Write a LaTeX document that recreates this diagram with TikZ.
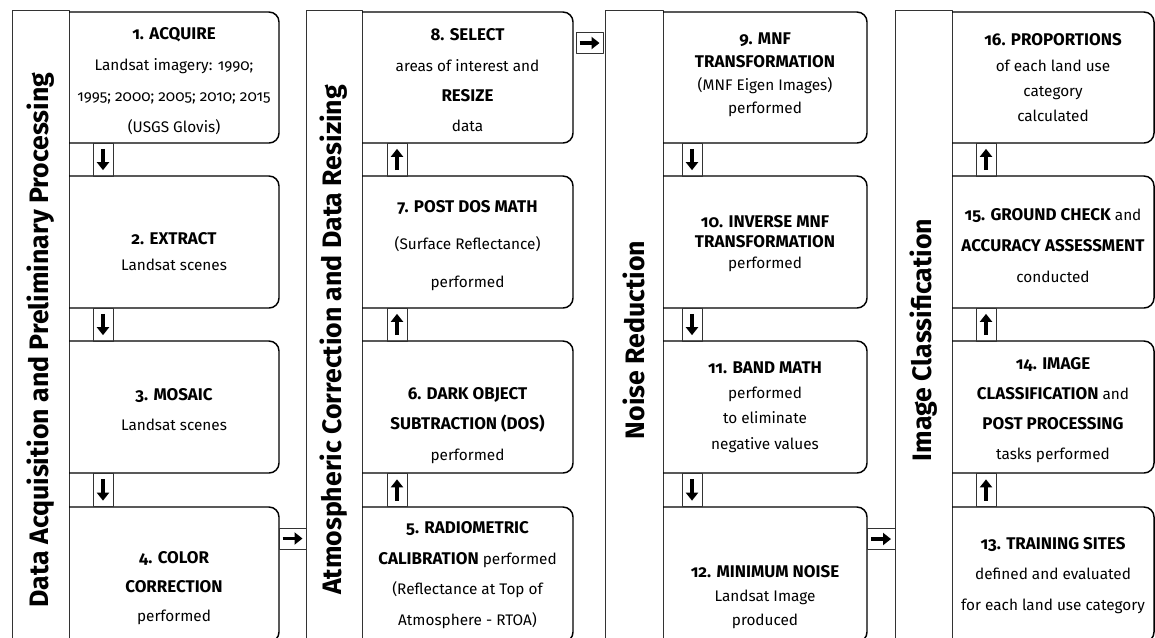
\documentclass[tikz,border=0pt]{standalone}
\usepackage{fontspec}
\setmainfont{Fira Sans}[Numbers=OldStyle]
\usetikzlibrary{arrows.meta}
\newcommand\hd[1]{{\fontsize{12.7}{12}\selectfont\bfseries #1}}
\tikzset{
  band/.style={draw=black!80,line width=.7pt},
  frame/.style={draw=black,line width=1.1pt,rounded corners=7.5pt},
  title/.style={rotate=90,font=\fontsize{20}{24}\selectfont\bfseries},
  stage/.style={align=center,inner sep=0pt,font=\fontsize{11.5}{#1}\selectfont},
  stage/.default=22.5pt,
  gap/.style={band,minimum width=15pt,minimum height=24.75pt,inner sep=0pt},
  sidegap/.style={band,minimum width=20.25pt,minimum height=15.75pt,inner sep=0pt},
  fat/.style={line width=2.5pt,-{Triangle[length=6pt,width=9pt]}},
}
\begin{document}
\begin{tikzpicture}[x=.75pt,y=-.75pt,line join=round]
\useasboundingbox (0,0) rectangle (1155,637);
% columns
\foreach \xs/\xb in {12/69,306/362,605/663,895/952}
  \draw[band] (\xs,10) rectangle (\xb,660);
\foreach \xb/\xe in {69/279,362/573,663/867,952/1154}
  \foreach \yt/\yb in {12/143,176/308,341/473,507/642}
    \draw[frame] (\xb,\yt) -- (\xe,\yt) -- (\xe,\yb) -- (\xb,\yb);
\node[title] (t1) at (40.5,340) {Data Acquisition and Preliminary Processing};
\node[title] (t2) at (334,340) {Atmospheric Correction and Data Resizing};
\node[title] (t3) at (634,340) {Noise Reduction};
\node[title] (t4) at (923.5,340) {Image Classification};
% arrows between steps
\foreach \x/\a/\b [count=\c] in {103/8pt/-8pt,397/-8pt/8pt,692/8pt/-8pt,986/-8pt/8pt}
  \foreach \y [count=\r] in {159.5,324.5,490}{
    \node[gap] (g\c\r) at (\x,\y) {};
    \draw[fat] ([yshift=\a]g\c\r.center) -- ([yshift=\b]g\c\r.center);
  }
\node[sidegap] (h1) at (292.5,538.5) {};
\node[sidegap] (h2) at (589.5,43) {};
\node[sidegap,minimum width=21pt] (h3) at (881,539) {};
\foreach \h in {h1,h2,h3}
  \draw[fat] ([xshift=-7.5pt]\h.center) -- ([xshift=7.5pt]\h.center);
% steps
\node[stage=23.25pt] (s1) at (174,81.5) {\hd{1. ACQUIRE}\\Landsat imagery: 1990;\\1995; 2000; 2005; 2010; 2015\\(USGS Glovis)};
\node[stage=19.5pt] (s2) at (174,252) {\hd{2. EXTRACT}\\Landsat scenes};
\node[stage] (s3) at (174,410) {\hd{3. MOSAIC}\\Landsat scenes};
\node[stage=21.75pt] (s4) at (174,588) {\hd{4. COLOR}\\\hd{CORRECTION}\\performed};
\node[stage=23pt] (s5) at (467.5,575) {\hd{5. RADIOMETRIC}\\\hd{CALIBRATION} performed\\(Reflectance at Top of\\Atmosphere - RTOA)};
\node[stage=23pt] (s6) at (467.5,425.5) {\hd{6. DARK OBJECT}\\\hd{SUBTRACTION (DOS)}\\performed};
\node[stage=28pt] (s7) at (467.5,245.5) {\hd{7. POST DOS MATH}\\(Surface Reflectance)\\performed};
\node[stage=22.75pt] (s8) at (467.5,80.5) {\hd{8. SELECT}\\areas of interest and\\\hd{RESIZE}\\data};
\node[stage=17.25pt] (s9) at (765,74.5) {\hd{9. MNF}\\\hd{TRANSFORMATION}\\(MNF Eigen Images)\\performed};
\node[stage=15.4pt] (s10) at (765,243.5) {\hd{10. INVERSE MNF}\\\hd{TRANSFORMATION}\\performed};
\node[stage=19pt] (s11) at (765,407) {\hd{11. BAND MATH}\\performed\\to eliminate\\negative values};
\node[stage=18pt] (s12) at (765,597) {\hd{12. MINIMUM NOISE}\\Landsat Image\\produced};
\node[stage=23pt] (s13) at (1053,575.5) {\hd{13. TRAINING SITES}\\defined and evaluated\\for each land use category};
\node[stage] (s14) at (1053,410) {\hd{14. IMAGE}\\\hd{CLASSIFICATION} and\\\hd{POST PROCESSING}\\tasks performed};
\node[stage=23pt] (s15) at (1053,245.5) {\hd{15. GROUND CHECK} and\\\hd{ACCURACY ASSESSMENT}\\conducted};
\node[stage=19pt] (s16) at (1053,78) {\hd{16. PROPORTIONS}\\of each land use\\category\\calculated};
\end{tikzpicture}
\end{document}
